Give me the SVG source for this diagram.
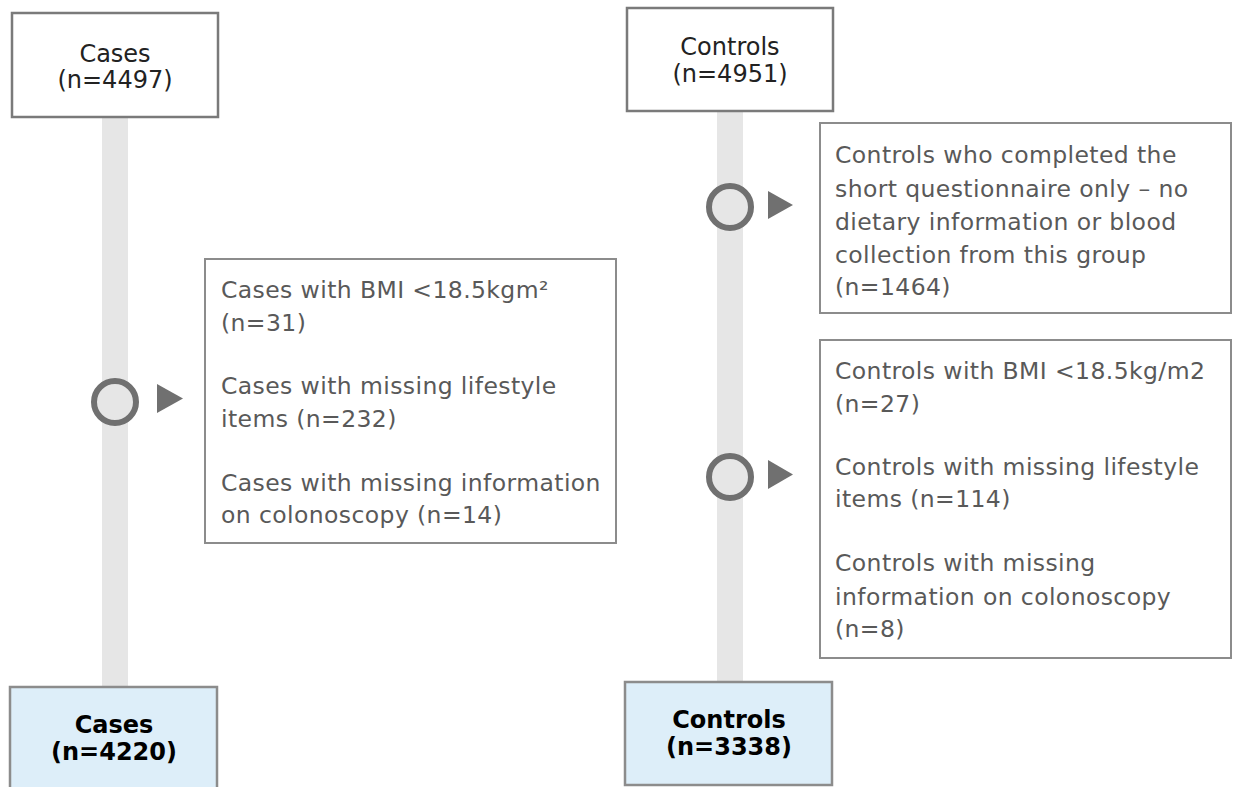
<svg xmlns="http://www.w3.org/2000/svg" width="1233" height="787" viewBox="0 0 1233 787">
<style>
.bg{fill:#ffffff}
.bar{fill:#e6e6e6}
.top{fill:#ffffff;stroke:#7a7a7a;stroke-width:2.5}
.ex{fill:#ffffff;stroke:#8c8c8c;stroke-width:2}
.fin{fill:#ddeef9;stroke:#8c8c8c;stroke-width:2.5}
.ring{fill:#e6e6e6;stroke:#707070;stroke-width:6}
.tri{fill:#707070}
.tt{font-family:"DejaVu Sans",Verdana,sans-serif;font-size:24px;fill:#222222;text-anchor:middle}
.bt{font-family:"DejaVu Sans",Verdana,sans-serif;font-size:24px;font-weight:bold;fill:#000000;text-anchor:middle}
.et{font-family:"DejaVu Sans",Verdana,sans-serif;font-size:23.5px;letter-spacing:0.4px;fill:#595959}
</style>
<rect class="bg" x="0" y="0" width="1233" height="787"/>
<g id="connectors">
  <rect class="bar" x="102" y="117" width="26" height="570"/>
  <rect class="bar" x="717" y="111" width="26" height="571"/>
  <circle class="ring" cx="115" cy="402" r="21"/>
  <polygon class="tri" points="157,384 183,398.5 157,413"/>
  <circle class="ring" cx="730" cy="207" r="21"/>
  <polygon class="tri" points="768,191 793,205 768,219"/>
  <circle class="ring" cx="730" cy="477" r="21"/>
  <polygon class="tri" points="768,460 793,474.5 768,489"/>
</g>
<g id="cases-start">
  <rect class="top" x="12" y="13" width="206" height="104"/>
  <text class="tt" x="115" y="62">Cases</text>
  <text class="tt" x="115" y="88">(n=4497)</text>
</g>
<g id="controls-start">
  <rect class="top" x="627" y="8" width="206" height="103"/>
  <text class="tt" x="730" y="55">Controls</text>
  <text class="tt" x="730" y="82">(n=4951)</text>
</g>
<g id="cases-excluded">
  <rect class="ex" x="205" y="259" width="411" height="284"/>
  <text class="et" x="221" y="298">Cases with BMI &lt;18.5kgm²</text>
  <text class="et" x="221" y="331">(n=31)</text>
  <text class="et" x="221" y="394">Cases with missing lifestyle</text>
  <text class="et" x="221" y="427">items (n=232)</text>
  <text class="et" x="221" y="491">Cases with missing information</text>
  <text class="et" x="221" y="523">on colonoscopy (n=14)</text>
</g>
<g id="controls-short">
  <rect class="ex" x="820" y="123" width="411" height="190"/>
  <text class="et" x="835" y="163">Controls who completed the</text>
  <text class="et" x="835" y="197">short questionnaire only – no</text>
  <text class="et" x="835" y="230">dietary information or blood</text>
  <text class="et" x="835" y="263">collection from this group</text>
  <text class="et" x="835" y="295">(n=1464)</text>
</g>
<g id="controls-excluded">
  <rect class="ex" x="820" y="340" width="411" height="318"/>
  <text class="et" x="835" y="379">Controls with BMI &lt;18.5kg/m2</text>
  <text class="et" x="835" y="412">(n=27)</text>
  <text class="et" x="835" y="475">Controls with missing lifestyle</text>
  <text class="et" x="835" y="507">items (n=114)</text>
  <text class="et" x="835" y="571">Controls with missing</text>
  <text class="et" x="835" y="605">information on colonoscopy</text>
  <text class="et" x="835" y="637">(n=8)</text>
</g>
<g id="cases-final">
  <rect class="fin" x="10" y="687" width="207" height="110"/>
  <text class="bt" x="114" y="733">Cases</text>
  <text class="bt" x="114" y="760">(n=4220)</text>
</g>
<g id="controls-final">
  <rect class="fin" x="625" y="682" width="207" height="103"/>
  <text class="bt" x="729" y="728">Controls</text>
  <text class="bt" x="729" y="755">(n=3338)</text>
</g>
</svg>
